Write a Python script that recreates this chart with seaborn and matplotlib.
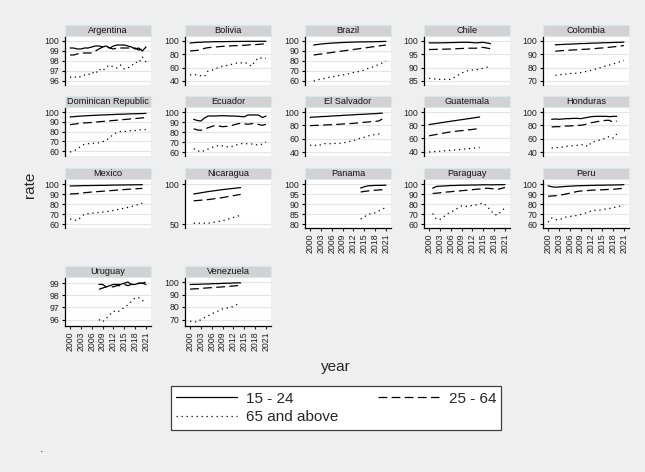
import numpy as np
import pandas as pd
import seaborn as sns
import matplotlib.pyplot as plt
from matplotlib.lines import Line2D
from matplotlib.patches import Rectangle

# ---- data ----
ages = ['15 - 24', '25 - 64', '65 and above']

argentina_years = list(range(2000, 2022))
argentina_15_24 = [99.3, 99.3, 99.2, 99.2, 99.3, 99.3, 99.4, 99.5, 99.5, 99.4, 99.5, 99.3, 99.5, 99.6, 99.6, 99.6, 99.5, 99.4, 99.2, 99.3, 99.0, 99.4]
argentina_25_64 = [98.6, 98.6, 98.7, 98.8, 98.8, 98.8, 98.8, 99.0, 99.2, 99.4, 99.4, 99.3, 99.2, 99.3, 99.3, 99.3, 99.3, 99.3, 99.3, 99.1, 99.2, 99.4]
argentina_65 = [96.4, 96.3, 96.5, 96.4, 96.6, 96.6, 96.9, 96.7, 97.2, 97.0, 97.4, 97.6, 97.4, 97.3, 97.6, 97.2, 97.3, 97.5, 97.9, 97.8, 98.4, 97.9]
argentina_ticks = [96, 97, 98, 99, 100]

bolivia_years = list(range(2000, 2010)) + list(range(2011, 2022))
bolivia_15_24 = [97, 97.5, 98, 98, 98.5, 98.5, 98.8, 99, 99, 99, 99.2, 99.3, 99.3, 99.4, 99.4, 99.5, 99.5, 99.5, 99.5, 99.6, 99.6]
bolivia_25_64 = [85, 85.5, 86, 87, 89, 90, 90.5, 91, 91.5, 92, 92.5, 93, 93, 93.5, 93.5, 94, 94.5, 94.5, 95, 95.5, 96]
bolivia_65 = [49, 50, 49, 48, 47, 55, 56, 58, 61, 62, 64, 66, 67, 67, 68, 66, 62, 70, 75, 74, 74]
bolivia_ticks = [40, 60, 80, 100]

brazil_years = list(range(2001, 2010)) + list(range(2011, 2022))
brazil_15_24 = [96.0, 96.5, 97.0, 97.3, 97.6, 97.9, 98.1, 98.3, 98.5, 98.8, 98.9, 99.0, 99.1, 99.1, 99.2, 99.2, 99.3, 99.4, 99.5, 99.6]
brazil_25_64 = [86, 86.5, 87, 87.5, 88, 88.5, 89, 89.5, 90, 91, 91.5, 92, 92.5, 93, 93.5, 94, 94.5, 95, 95.5, 96]
brazil_65 = [60, 61, 62, 62.5, 63.5, 64, 65, 65.5, 66, 67.5, 68.5, 69, 70, 71, 72.5, 73.5, 75, 76.5, 78, 80]
brazil_ticks = [60, 70, 80, 90, 100]

chile_years = [2000, 2003, 2006, 2009, 2011, 2013, 2015, 2017]
chile_15_24 = [99.3, 99.3, 99.4, 99.5, 99.5, 99.3, 99.5, 99.0]
chile_25_64 = [96.8, 96.9, 97.0, 97.2, 97.3, 97.3, 97.6, 97.1]
chile_65 = [86.0, 85.6, 85.6, 88.0, 89.0, 89.2, 89.8, 90.5]
chile_ticks = [85, 90, 95, 100]

colombia_years = list(range(2002, 2022))
colombia_15_24 = [97.1, 97.3, 97.4, 97.6, 97.6, 97.8, 97.9, 98.1, 98.1, 98.2, 98.4, 98.4, 98.5, 98.7, 98.7, 98.8, 98.9, 99.0, 99.0, 99.2]
colombia_25_64 = [92.3, 92.6, 92.8, 93.0, 93.1, 93.3, 93.4, 93.6, 93.8, 93.9, 94.1, 94.3, 94.6, 94.8, 95.0, 95.3, 95.6, 95.9, 96.2, 96.6]
colombia_65 = [74.3, 74.6, 75.0, 75.2, 75.5, 75.9, 75.8, 76.3, 76.9, 77.4, 78.0, 78.8, 79.6, 80.4, 81.3, 82.0, 82.8, 83.6, 84.6, 85.4]
colombia_ticks = [70, 80, 90, 100]

dominican_years = list(range(2000, 2022))
dominican_15_24 = [95.0, 95.2, 95.6, 95.8, 96.0, 96.3, 96.4, 96.7, 96.8, 97.0, 97.1, 97.3, 97.4, 97.6, 97.7, 97.8, 98.0, 98.1, 98.2, 98.3, 98.4, 98.6]
dominican_25_64 = [87.0, 87.5, 88.0, 88.5, 88.8, 89.0, 89.3, 89.6, 90.0, 90.3, 90.6, 91.0, 91.3, 91.6, 92.0, 92.3, 92.6, 93.0, 93.3, 93.6, 94.0, 94.3]
dominican_65 = [59, 60, 62, 65, 67, 67.5, 68, 68, 68.5, 69.5, 71, 74, 77, 79, 80, 80, 80.5, 81, 81, 81.5, 82, 82]
dominican_ticks = [60, 70, 80, 90, 100]

ecuador_years = list(range(2001, 2022))
ecuador_15_24 = [92.7, 91.5, 91.0, 94.0, 96.0, 96.0, 96.0, 96.2, 96.3, 96.2, 96.0, 96.0, 95.8, 95.5, 95.2, 97.0, 97.0, 97.1, 96.8, 94.5, 96.0]
ecuador_25_64 = [83.3, 82.0, 81.7, 83.0, 84.3, 85.5, 86.7, 86.0, 85.3, 85.6, 86.0, 87.0, 88.0, 88.7, 88.2, 87.7, 88.3, 88.7, 87.5, 86.7, 87.7]
ecuador_65 = [63.3, 61.5, 60.0, 61.5, 63.0, 64.5, 65.5, 66.7, 66.0, 65.3, 65.0, 66.0, 67.3, 68.3, 68.5, 68.2, 68.0, 67.5, 66.7, 68.0, 70.0]
ecuador_ticks = [60, 70, 80, 90, 100]

salvador_years = list(range(2000, 2021))
salvador_15_24 = [92.0, 92.4, 92.6, 93.1, 93.3, 93.5, 94.0, 94.3, 94.5, 94.9, 95.3, 95.5, 95.8, 96.2, 96.4, 96.6, 97.0, 97.3, 97.5, 97.9, 98.3]
salvador_25_64 = [79.5, 79.8, 80.0, 80.3, 80.5, 80.8, 81.0, 81.3, 81.6, 82.0, 82.3, 82.7, 83.0, 83.5, 84.0, 84.5, 85.0, 85.5, 86.0, 86.5, 89.5]
salvador_65 = [50, 51, 49, 51, 52.5, 52.5, 52.5, 53, 53, 53.5, 54.5, 56, 57, 59, 61, 62, 64, 65.5, 66, 67, 67.5]
salvador_ticks = [40, 60, 80, 100]

guatemala_years = [2000, 2006, 2011, 2014]
guatemala_15_24 = [81, 86, 90, 92.5]
guatemala_25_64 = [64, 70, 73, 75]
guatemala_65 = [39.5, 42, 44.5, 46.5]
guatemala_ticks = [40, 60, 80, 100]

honduras_years = list(range(2001, 2020))
honduras_15_24 = [89, 89.5, 89, 89.5, 90, 90, 90.5, 90.5, 90, 91, 92, 93, 93.5, 93.5, 93.5, 93.5, 93, 93.5, 93.5]
honduras_25_64 = [77.5, 78, 78, 78.5, 79, 79, 79.5, 80, 80, 81, 82.5, 84, 85, 86, 86.5, 87.5, 87.5, 84.5, 86.5]
honduras_65 = [46, 46.5, 47, 47.5, 48.5, 49, 49.5, 50, 50.5, 51.5, 48, 54.5, 56, 57.5, 59, 61, 63.5, 61, 67]
honduras_ticks = [40, 60, 80, 100]

mexico_years = [2000, 2002, 2004, 2005, 2006, 2008, 2010, 2012, 2014, 2016, 2018, 2020]
mexico_15_24 = [98.0, 98.2, 98.4, 98.4, 98.5, 98.6, 98.7, 98.9, 99.0, 99.1, 99.2, 99.3]
mexico_25_64 = [90.0, 90.4, 91.3, 91.6, 92.0, 92.5, 93.0, 93.6, 94.2, 94.7, 95.2, 95.6]
mexico_65 = [65.0, 63.5, 70.0, 70.3, 70.8, 71.5, 72.3, 73.5, 75.0, 76.6, 78.5, 80.8]
mexico_ticks = [60, 70, 80, 90, 100]

nicaragua_years = [2001, 2005, 2009, 2014]
nicaragua_15_24 = [87.5, 90.5, 93.0, 95.5]
nicaragua_25_64 = [79, 80.5, 83, 87]
nicaragua_65 = [51, 51, 54, 61]
nicaragua_ticks = [50, 100]

panama_years = [2014, 2015, 2016, 2017, 2018, 2019, 2021]
panama_15_24 = [98.0, 98.6, 99.1, 99.2, 99.3, 99.3, 99.4]
panama_25_64 = [96.0, 96.3, 96.5, 96.7, 96.9, 97.0, 97.3]
panama_65 = [82.5, 83.5, 84.8, 85.2, 85.6, 86.5, 88.3]
panama_ticks = [80, 85, 90, 95, 100]

paraguay_years = list(range(2001, 2022))
paraguay_15_24 = [95.8, 97.5, 97.8, 98.0, 98.2, 98.5, 98.5, 98.7, 98.8, 98.8, 98.9, 99.0, 99.0, 99.1, 99.2, 99.2, 99.2, 99.2, 99.3, 99.3, 99.3]
paraguay_25_64 = [90.5, 90.8, 91.2, 91.7, 92.0, 92.3, 92.7, 93.0, 93.3, 93.6, 94.0, 94.3, 94.7, 95.0, 95.5, 95.8, 95.5, 95.0, 94.7, 95.5, 96.5]
paraguay_65 = [70.5, 65.0, 64.5, 67.0, 70.0, 72.0, 73.5, 76.0, 78.0, 77.5, 78.0, 78.5, 79.0, 80.0, 81.0, 77.5, 74.0, 69.5, 69.0, 73.0, 76.0]
paraguay_ticks = [60, 70, 80, 90, 100]

peru_years = list(range(2000, 2022))
peru_15_24 = [98.2, 97.3, 96.8, 97.0, 97.3, 97.6, 97.8, 98.0, 98.2, 98.3, 98.4, 98.5, 98.6, 98.7, 98.8, 98.8, 98.9, 99.0, 99.0, 99.1, 99.2, 99.3]
peru_25_64 = [87.7, 88.0, 88.3, 88.8, 89.3, 90.0, 90.8, 91.6, 92.5, 93.0, 93.2, 93.5, 93.8, 94.0, 94.0, 94.2, 94.4, 94.6, 94.8, 95.0, 95.4, 95.8]
peru_65 = [61.8, 66.0, 64.5, 64.2, 65.5, 67.0, 67.5, 68.0, 68.5, 69.5, 70.5, 72.0, 73.0, 73.7, 73.7, 74.5, 75.0, 75.5, 76.5, 77.0, 78.0, 79.0]
peru_ticks = [60, 70, 80, 90, 100]

uruguay_years = list(range(2008, 2022))
uruguay_15_24 = [98.9, 98.9, 98.7, 98.8, 98.9, 98.9, 98.9, 99.0, 99.1, 98.9, 98.9, 99.0, 99.0, 98.9]
uruguay_25_64 = [98.5, 98.6, 98.7, 98.7, 98.7, 98.8, 98.8, 98.9, 98.8, 98.9, 98.9, 99.0, 99.0, 99.1]
uruguay_65 = [96.0, 95.8, 96.1, 96.4, 96.7, 96.6, 96.8, 97.0, 97.2, 97.5, 97.8, 97.8, 97.6, 97.3]
uruguay_ticks = [96, 97, 98, 99]

venezuela_years = list(range(2000, 2015))
venezuela_15_24 = [98.0, 98.1, 98.1, 98.3, 98.4, 98.4, 98.6, 98.7, 98.7, 98.9, 99.0, 99.0, 99.2, 99.3, 99.3]
venezuela_25_64 = [94.3, 94.5, 94.6, 94.9, 95.1, 95.3, 95.5, 95.7, 95.9, 96.1, 96.3, 96.6, 96.8, 97.1, 97.4]
venezuela_65 = [68.6, 68.3, 68.0, 70.0, 71.5, 73.0, 74.5, 76.0, 77.0, 78.5, 79.0, 79.5, 80.5, 82.0, 83.0]
venezuela_ticks = [70, 80, 90, 100]

x_ticks = list(range(2000, 2022, 3))

panels = [
    ('Argentina', argentina_years, argentina_15_24, argentina_25_64, argentina_65, argentina_ticks),
    ('Bolivia', bolivia_years, bolivia_15_24, bolivia_25_64, bolivia_65, bolivia_ticks),
    ('Brazil', brazil_years, brazil_15_24, brazil_25_64, brazil_65, brazil_ticks),
    ('Chile', chile_years, chile_15_24, chile_25_64, chile_65, chile_ticks),
    ('Colombia', colombia_years, colombia_15_24, colombia_25_64, colombia_65, colombia_ticks),
    ('Dominican Republic', dominican_years, dominican_15_24, dominican_25_64, dominican_65, dominican_ticks),
    ('Ecuador', ecuador_years, ecuador_15_24, ecuador_25_64, ecuador_65, ecuador_ticks),
    ('El Salvador', salvador_years, salvador_15_24, salvador_25_64, salvador_65, salvador_ticks),
    ('Guatemala', guatemala_years, guatemala_15_24, guatemala_25_64, guatemala_65, guatemala_ticks),
    ('Honduras', honduras_years, honduras_15_24, honduras_25_64, honduras_65, honduras_ticks),
    ('Mexico', mexico_years, mexico_15_24, mexico_25_64, mexico_65, mexico_ticks),
    ('Nicaragua', nicaragua_years, nicaragua_15_24, nicaragua_25_64, nicaragua_65, nicaragua_ticks),
    ('Panama', panama_years, panama_15_24, panama_25_64, panama_65, panama_ticks),
    ('Paraguay', paraguay_years, paraguay_15_24, paraguay_25_64, paraguay_65, paraguay_ticks),
    ('Peru', peru_years, peru_15_24, peru_25_64, peru_65, peru_ticks),
    ('Uruguay', uruguay_years, uruguay_15_24, uruguay_25_64, uruguay_65, uruguay_ticks),
    ('Venezuela', venezuela_years, venezuela_15_24, venezuela_25_64, venezuela_65, venezuela_ticks),
]

rows = []
for name, yrs, a, b, c, _ in panels:
    for age, vals in zip(ages, [a, b, c]):
        for yr, v in zip(yrs, vals):
            rows.append((name, age, yr, v))
df = pd.DataFrame(rows, columns=['country', 'age', 'year', 'rate'])

# ---- figure ----
sns.set_style('white')
plt.rcParams['font.family'] = ['Liberation Sans', 'DejaVu Sans']

W, H = 645, 472
bg = '#efefef'
fig = plt.figure(figsize=(W / 100, H / 100), dpi=100, facecolor=bg)

dash_map = {'15 - 24': '', '25 - 64': (7, 3.5), '65 and above': (1, 3)}
col_left = [65, 185, 305, 424, 543]
row_top = [37, 108, 180, 278]
pw, ph = 86, 48
bottom_panels = {'Panama', 'Paraguay', 'Peru', 'Uruguay', 'Venezuela'}

for i, (name, yrs, a, b, c, ticks) in enumerate(panels):
    r, col = divmod(i, 5)
    x0 = col_left[col] / W
    y0 = 1 - (row_top[r] + ph) / H
    ax = fig.add_axes([x0, y0, pw / W, ph / H])
    ax.set_facecolor('white')
    sub = df[df['country'] == name]
    sns.lineplot(data=sub, x='year', y='rate', style='age', style_order=ages,
                 dashes=dash_map, color='black', linewidth=0.9, estimator=None,
                 legend=False, ax=ax)
    ax.set_xlabel('')
    ax.set_ylabel('')

    lo = min(ticks[0], sub['rate'].min())
    hi = max(ticks[-1], sub['rate'].max())
    pad = (hi - lo) * 0.1
    ax.set_ylim(lo - pad, hi + pad)
    ax.set_yticks(ticks)
    ax.set_yticklabels([str(t) for t in ticks])
    ax.set_xlim(1998.6, 2022.4)
    ax.set_xticks(x_ticks)
    ax.grid(axis='y', color='#e4e4e4', lw=0.8)
    ax.grid(axis='x', visible=False)
    ax.set_axisbelow(True)

    for s in ['top', 'right']:
        ax.spines[s].set_visible(False)
    ax.spines['left'].set_color('black')
    ax.spines['left'].set_linewidth(0.9)
    ax.tick_params(axis='y', left=True, length=2.5, width=0.8, pad=1.5,
                   labelsize=6.3, colors='black', labelcolor='#222222')
    if name in bottom_panels:
        ax.spines['bottom'].set_color('black')
        ax.spines['bottom'].set_linewidth(0.9)
        ax.tick_params(axis='x', bottom=True, length=2.5, width=0.8, pad=1.5,
                       labelsize=6.3, labelrotation=90, labelcolor='#222222')
    else:
        ax.spines['bottom'].set_visible(False)
        ax.tick_params(axis='x', bottom=False, labelbottom=False)

    # strip title
    ax.add_patch(Rectangle((0, 1.03), 1, 0.21, transform=ax.transAxes, clip_on=False,
                           facecolor='#d2d2d2', edgecolor='#dbe6ec', lw=0.8))
    ax.text(0.5, 1.135, name, transform=ax.transAxes, ha='center', va='center',
            fontsize=6.6, color='#111111')

fig.text(30 / W, 1 - 185 / H, 'rate', rotation=90, ha='center', va='center', fontsize=11)
fig.text(336 / W, 1 - 367 / H, 'year', ha='center', va='center', fontsize=11)

handles = [Line2D([], [], color='black', lw=0.9, linestyle='-'),
           Line2D([], [], color='black', lw=0.9, dashes=dash_map['65 and above']),
           Line2D([], [], color='black', lw=0.9, dashes=dash_map['25 - 64'])]
labels = ['15 - 24', '65 and above', '25 - 64']
leg = fig.legend(handles, labels, ncol=2, loc='center',
                 bbox_to_anchor=(336 / W, 1 - 408 / H), frameon=True, fancybox=False,
                 edgecolor='#404040', framealpha=1, fontsize=11, handlelength=4.0,
                 handletextpad=0.6, columnspacing=2.6, labelspacing=0.3, borderpad=0.35)
leg.get_frame().set_linewidth(0.9)

fig.text(40 / W, 1 - 452 / H, '.', fontsize=9)

fig.savefig('out.png', dpi=100, facecolor=bg)
